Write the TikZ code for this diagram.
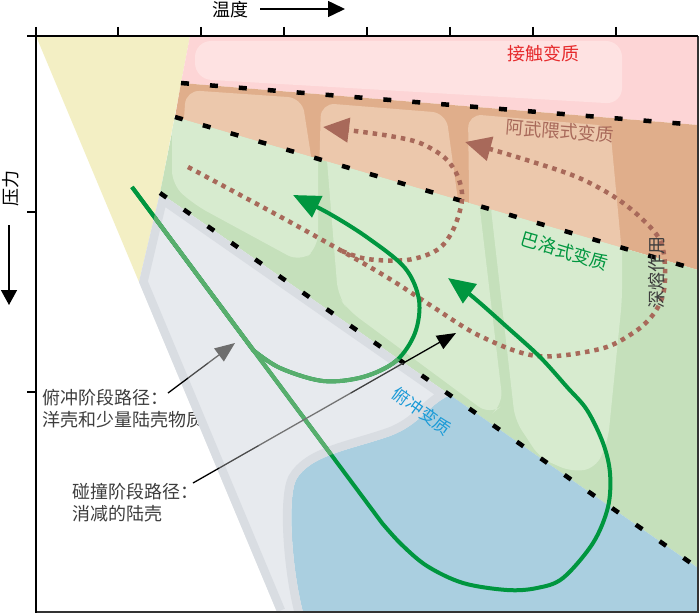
\documentclass[tikz,border=0pt]{standalone}
\usepackage{fontspec}
\setmainfont{Noto Sans CJK SC}
\usetikzlibrary{arrows.meta,calc}
\definecolor{pinkA}{HTML}{FDD5D6}
\definecolor{pinkB}{HTML}{FEE2E2}
\definecolor{orgA}{HTML}{E0AE8B}
\definecolor{orgB}{HTML}{ECC8AC}
\definecolor{grnA}{HTML}{C5E0BB}
\definecolor{grnB}{HTML}{D7EBCF}
\definecolor{grayA}{HTML}{D9DDE2}
\definecolor{grayB}{HTML}{E7EAEE}
\definecolor{blueA}{HTML}{AACFE0}
\definecolor{yelA}{HTML}{F3EFC4}
\definecolor{dgreen}{HTML}{00963F}
\definecolor{lgreen}{HTML}{58AE6D}
\definecolor{brownP}{HTML}{A8695A}
\definecolor{labred}{HTML}{E62A2C}
\definecolor{labblue}{HTML}{1A9AD7}
\definecolor{txtgray}{HTML}{3D3D3D}
\begin{document}
\begin{tikzpicture}[x=1pt,y=-1pt,
  boundary/.style={line width=4.5pt, dash pattern=on 8pt off 21pt, black},
  dots/.style={line width=4.5pt, dash pattern=on 4.5pt off 5pt, brownP},
  gpath/.style={line width=4pt, dgreen},
  lbl/.style={font=\fontsize{18}{22}\selectfont, inner sep=0pt},
  ann/.style={lbl, anchor=west, text=txtgray},
  gtip/.style={-{Triangle[length=27pt,width=23pt]}},
  btip/.style={-{Triangle[length=26pt,width=24pt]}}]
\useasboundingbox (0,0) rectangle (700,615);

% annotation texts (partly hidden by regions)
\node[ann] (t1a) at (42,398) {俯冲阶段路径：};
\node[ann] (t1b) at (42,420) {洋壳和少量陆壳物质};
\node[ann] (t2a) at (72,492) {碰撞阶段路径：};
\node[ann] (t2b) at (72,514) {消减的陆壳};

% regions
\fill[yelA] (36,36) -- (190,36) -- (160,193) -- (139,282) -- cycle;
\fill[pinkA] (190,36) -- (698,36) -- (698,125) -- (181,83) -- cycle;
\fill[orgA] (181,83) -- (698,125) -- (698,270) -- (175,117) -- cycle;
\fill[grnA] (175,117) -- (698,270) -- (698,568) -- (160,193) -- cycle;
\fill[grayB] (160,193) -- (450,395)
  .. controls (428,405) and (420,425) .. (390,436)
  .. controls (350,450) and (310,455) .. (296,480)
  .. controls (287,500) and (292,570) .. (303,612)
  -- (277,612) -- (139,282) -- cycle;
\fill[blueA] (450,395) -- (698,568) -- (698,612) -- (303,612)
  .. controls (292,570) and (287,500) .. (296,480)
  .. controls (310,455) and (350,450) .. (390,436)
  .. controls (420,425) and (428,405) .. (450,395) -- cycle;

% lighter patches
\begin{scope}
  \clip (190,36) -- (698,36) -- (698,125) -- (181,83) -- cycle;
  \fill[pinkB, rounded corners=16pt] (195,41) -- (622,41) -- (622,104) -- (195,79) -- cycle;
\end{scope}
\begin{scope}
  \clip (181,83) -- (698,125) -- (698,270) -- (175,117) -- cycle;
  \fill[orgB, rounded corners=14pt] (186,90) -- (302,98) -- (314,175) -- (180,175) -- cycle;
  \fill[orgB, rounded corners=14pt] (321,103) -- (446,113) -- (460,215) -- (318,215) -- cycle;
  \fill[orgB, rounded corners=14pt] (468,114) -- (610,126) -- (623,265) -- (470,265) -- cycle;
\end{scope}
\begin{scope}
  \clip (175,117) -- (698,270) -- (698,568) -- (160,193) -- cycle;
  \fill[grnB, rounded corners=14pt] (172,105) -- (318,148) -- (318,248) -- (300,262) -- (195,205) -- (172,185) -- cycle;
  \fill[grnB, rounded corners=14pt] (326,148) -- (478,193) -- (503,405) -- (490,415) -- (348,310) -- (338,296) -- cycle;
  \fill[grnB, rounded corners=12pt] (490,200) -- (622,240) -- (622,300) -- (608,440) -- (596,468) -- (572,472) -- (540,458) -- (515,420) -- cycle;
\end{scope}

% gray band
\begin{scope}
  \clip (160,193) -- (450,395)
  .. controls (428,405) and (420,425) .. (390,436)
  .. controls (350,450) and (310,455) .. (296,480)
  .. controls (287,500) and (292,570) .. (303,612)
  -- (277,612) -- (139,282) -- cycle;
  \draw[grayA, line width=17pt, line join=round] (277,612) -- (139,282) -- (160,193) -- (450,395)
  .. controls (428,405) and (420,425) .. (390,436)
  .. controls (350,450) and (310,455) .. (296,480)
  .. controls (287,500) and (292,570) .. (303,612);
\end{scope}

% boundaries
\coordinate (TD1) at (181,83);  \coordinate (TD2) at (698,125);
\coordinate (MD1) at (175,117); \coordinate (MD2) at (698,270);
\coordinate (LD1) at (160,193); \coordinate (LD2) at (698,568);
\draw[boundary] (TD1) -- (TD2);
\draw[boundary] (MD1) -- (MD2);
\draw[boundary] (LD1) -- (LD2);

% dotted P-T paths
\draw[dots, btip] plot[smooth, tension=0.55] coordinates {(188,167) (290,222) (380,273) (430,305) (480,336) (537,356) (600,349) (633,333) (652,316) (663,295) (665,267) (660,240) (640,217) (613,196) (577,177) (533,162) (490,149) (465,142)};
\draw[dots, btip] plot[smooth, tension=0.55] coordinates {(342,251) (367,259) (407,260) (437,250) (453,230) (462,200) (458,177) (445,158) (420,143) (390,136) (355,131) (323,127)};

% green paths
\draw[gpath, gtip] (132,187) -- plot[smooth, tension=0.55] coordinates {(253,350) (280,368) (323,381) (363,377) (396,361) (415,333) (419,300) (405,268) (368,238) (330,214) (293,195)};
\draw[gpath, gtip] (132,187) -- plot[smooth, tension=0.55] coordinates {(382,523) (401,544) (427,566) (463,583) (507,590) (537,588) (563,578) (593,543) (608,507) (610,473) (603,443) (587,410) (567,387) (540,357) (507,327) (473,297) (448,278)};
\begin{scope}
  \clip (160,193) -- (450,395)
  .. controls (428,405) and (420,425) .. (390,436)
  .. controls (350,450) and (310,455) .. (296,480)
  .. controls (287,500) and (292,570) .. (303,612)
  -- (277,612) -- (139,282) -- cycle;
  \draw[line width=4pt, lgreen] (132,187) -- plot[smooth, tension=0.55] coordinates {(253,350) (280,368) (323,381) (363,377) (396,361) (415,333) (419,300)};
  \draw[line width=4pt, lgreen] (132,187) -- (382,523);
\end{scope}

% annotation arrows
\coordinate (a1s) at (168,393); \coordinate (a1e) at (235,343);
\draw[line width=1.3pt, black] (a1s) -- ($(a1s)!0.3!(a1e)$);
\draw[line width=1.3pt, black!70] ($(a1s)!0.3!(a1e)$) -- ($(a1s)!0.6!(a1e)$);
\draw[line width=1.3pt, black!57, -{Triangle[length=20pt,width=16pt]}] ($(a1s)!0.6!(a1e)$) -- (a1e);
\coordinate (a2s) at (193,483); \coordinate (a2e) at (456,333);
\draw[line width=1.3pt, black] (a2s) -- ($(a2s)!0.1!(a2e)$);
\draw[line width=1.3pt, black!70] ($(a2s)!0.1!(a2e)$) -- ($(a2s)!0.25!(a2e)$);
\draw[line width=1.3pt, black!55] ($(a2s)!0.25!(a2e)$) -- ($(a2s)!0.6!(a2e)$);
\draw[line width=1.3pt, black!75] ($(a2s)!0.6!(a2e)$) -- ($(a2s)!0.8!(a2e)$);
\draw[line width=1.3pt, black, -{Triangle[length=19pt,width=15pt]}] ($(a2s)!0.8!(a2e)$) -- (a2e);

% zone labels
\node[lbl, text=labred] (ljc) at (543,54) {接触变质};
\node[lbl, text=brownP, rotate=-4.5] (law) at (560,131) {阿武隈式变质};
\node[lbl, text=dgreen, rotate=-16.5] (lbl) at (565,251) {巴洛式变质};
\node[lbl, text=labblue, rotate=-36, font=\fontsize{17}{20}\selectfont] (lfc) at (422,411) {俯冲变质};
\node[lbl, text=txtgray, rotate=90] (lsr) at (657,272) {深熔作用};

% axes
\node[lbl] (lT) at (230,10) {温度};
\node[lbl, rotate=90] (lP) at (11,188) {压力};
\coordinate (ta1) at (260,9); \coordinate (ta2) at (345,9);
\draw[line width=1.5pt, -{Triangle[length=17pt,width=16pt]}] (ta1) -- (ta2);
\coordinate (pa1) at (9,225); \coordinate (pa2) at (9,305);
\draw[line width=1.5pt, -{Triangle[length=15pt,width=16pt]}] (pa1) -- (pa2);

\draw[line width=2pt, black!80] (36,612) -- (698,612) -- (698,36);
\draw[line width=2pt] (27,36) -- (698,36);
\draw[line width=2pt] (36,27) -- (36,613);
\foreach \x in {118,201,284,367,450,533,616} \draw[line width=1.5pt] (\x,27) -- (\x,36);
\foreach \y in {212,392} \draw[line width=1.5pt] (27,\y) -- (36,\y);
\end{tikzpicture}
\end{document}
